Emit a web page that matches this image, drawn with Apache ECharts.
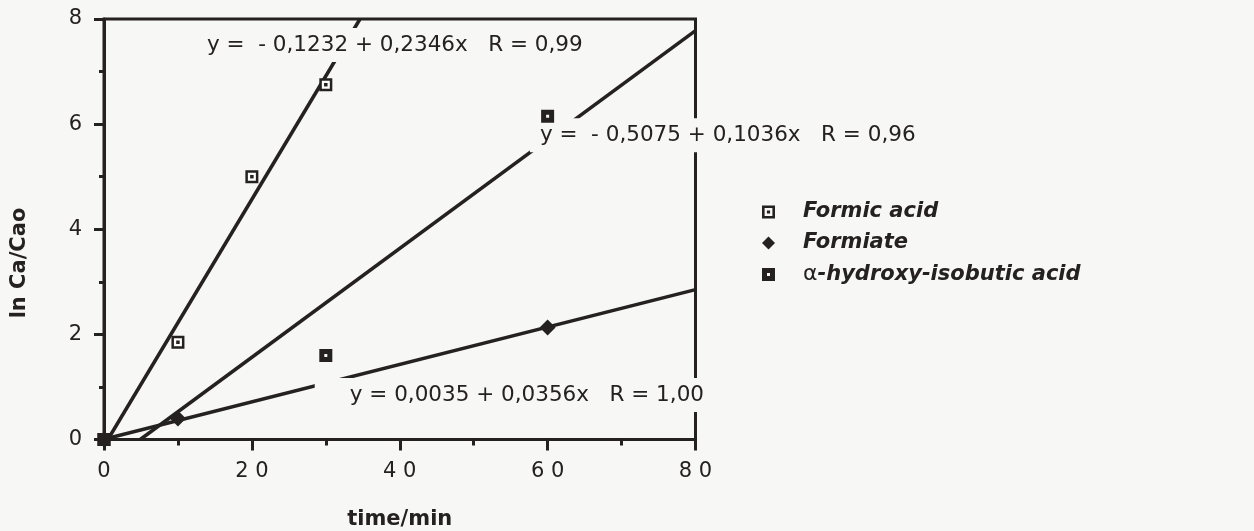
<!DOCTYPE html>
<html>
<head>
<meta charset="utf-8">
<title>ln Ca/Cao vs time</title>
<script src="https://cdn.jsdelivr.net/npm/echarts@6/dist/echarts.min.js"></script>
<style>
  html, body { margin: 0; padding: 0; background: #f7f7f5; }
  #chart { width: 1254px; height: 531px; }
</style>
</head>
<body>
<div id="chart"></div>
<script>
// ---- data ----
const xTicks = [0, 20, 40, 60, 80];
const xTickLabels = ['0', '2 0', '4 0', '6 0', '8 0'];
const yTicks = [0, 2, 4, 6, 8];
const yTickLabels = ['0', '2', '4', '6', '8'];

const timeFormic = [0, 10, 20, 30];
const lnFormic = [0, 1.85, 5.0, 6.75];

const timeFormiate = [0, 10, 60];
const lnFormiate = [0, 0.40, 2.13];

const timeHiba = [0, 30, 60];
const lnHiba = [0, 1.60, 6.15];

// linear fits: [intercept, slope], correlation R
const fitFormic = [-0.1232, 0.2346];
const fitFormiate = [0.0035, 0.0356];
const fitHiba = [-0.5075, 0.1036];
const rFormic = 0.99;
const rFormiate = 1.00;
const rHiba = 0.96;

const legendNames = ['Formic acid', 'Formiate', 'α-hydroxy-isobutic acid'];

// ---- helpers ----
const ink = '#252120';
const paper = '#f7f7f5';
const X_MIN = 0, X_MAX = 80, Y_MIN = 0, Y_MAX = 8;

const zip = (xs, ys) => xs.map((x, i) => [x, ys[i]]);
const comma = (v, d) => v.toFixed(d).replace('.', ',');

// fitted line clipped to the plotting box
function fitSegment(fit) {
  const [a, b] = fit;
  const x0 = Math.max(X_MIN, (Y_MIN - a) / b);
  const x1 = Math.min(X_MAX, (Y_MAX - a) / b);
  return [[x0, a + b * x0], [x1, a + b * x1]];
}
function fitText(fit, r) {
  const [a, b] = fit;
  const head = a < 0 ? 'y =  - ' + comma(-a, 4) : 'y = ' + comma(a, 4);
  return head + ' + ' + comma(b, 4) + 'x   R = ' + comma(r, 2);
}

// equation label: a paper-coloured box that masks the line and frame beneath it
function fitSeries(name, fit, r, anchor, padLeft) {
  return {
    name: name,
    type: 'line',
    data: fitSegment(fit),
    symbol: 'none',
    showSymbol: false,
    silent: true,
    z: 3,
    lineStyle: { color: ink, width: 3.5, opacity: 1 },
    markPoint: {
      silent: true,
      symbol: 'rect',
      symbolSize: 0,
      itemStyle: { color: 'transparent' },
      label: {
        show: true,
        position: 'right',
        distance: 0,
        formatter: fitText(fit, r),
        color: ink,
        fontFamily: 'DejaVu Sans',
        fontSize: 21.5,
        lineHeight: 22,
        backgroundColor: paper,
        padding: [6, 8, 6, padLeft]
      },
      data: [{ coord: anchor }]
    }
  };
}

// marker shapes
const iconFormic = 'path://M0,0H13V13H0Z M2.6,2.6V10.4H10.4V2.6Z M4.9,4.9H8.1V8.1H4.9Z';
const iconHiba = 'path://M0,0H13V13H0Z M5,5V8H8V5Z';

const tickLine = { color: ink, width: 3 };

const chart = echarts.init(document.getElementById('chart'), null, { renderer: 'canvas' });

chart.setOption({
  backgroundColor: paper,
  animation: false,
  textStyle: { fontFamily: 'DejaVu Sans', color: ink },
  grid: {
    left: 104, right: 558.5, top: 19, bottom: 91.5,
    show: true, borderColor: ink, borderWidth: 3, backgroundColor: 'transparent',
    containLabel: false, outerBoundsMode: 'none'
  },
  xAxis: {
    type: 'value', min: X_MIN, max: X_MAX, interval: 20,
    name: 'time/min', nameLocation: 'middle', nameGap: 70,
    nameTextStyle: { color: ink, fontFamily: 'DejaVu Sans', fontSize: 21, fontWeight: 'bold' },
    axisLine: { show: true, onZero: false, lineStyle: tickLine },
    axisTick: { show: true, inside: false, length: 11, lineStyle: tickLine },
    minorTick: { show: true, splitNumber: 2, length: 6, lineStyle: tickLine },
    splitLine: { show: false },
    minorSplitLine: { show: false },
    axisLabel: {
      margin: 22, color: ink, fontFamily: 'DejaVu Sans', fontSize: 21,
      formatter: v => { const i = xTicks.indexOf(v); return i < 0 ? '' : xTickLabels[i]; }
    }
  },
  yAxis: {
    type: 'value', min: Y_MIN, max: Y_MAX, interval: 2,
    axisLine: { show: true, onZero: false, lineStyle: tickLine },
    axisTick: { show: true, inside: false, length: 10, lineStyle: tickLine },
    minorTick: { show: true, splitNumber: 2, length: 5, lineStyle: tickLine },
    splitLine: { show: false },
    minorSplitLine: { show: false },
    axisLabel: {
      margin: 22, color: ink, fontFamily: 'DejaVu Sans', fontSize: 21,
      formatter: v => { const i = yTicks.indexOf(v); return i < 0 ? '' : yTickLabels[i]; }
    }
  },
  legend: {
    orient: 'vertical',
    left: 762, top: 201.5,
    padding: 0,
    itemWidth: 13, itemHeight: 13, itemGap: 10,
    selectedMode: false,
    textStyle: {
      color: ink, fontFamily: 'DejaVu Sans', fontSize: 21, fontWeight: 'bold', fontStyle: 'italic',
      lineHeight: 21, padding: [0, 0, 0, 23],
      rich: {
        g: { fontFamily: 'DejaVu Sans', fontSize: 22, fontWeight: 'normal', fontStyle: 'normal', color: ink }
      }
    },
    formatter: name => name.charAt(0) === 'α' ? '{g|α}' + name.slice(1) : name,
    data: [
      { name: legendNames[0], icon: iconFormic, itemStyle: { color: ink, borderWidth: 0, opacity: 1 } },
      { name: legendNames[1], icon: 'diamond', itemStyle: { color: ink, borderWidth: 0, opacity: 1 } },
      { name: legendNames[2], icon: iconHiba, itemStyle: { color: ink, borderWidth: 0, opacity: 1 } }
    ]
  },
  graphic: [{
    type: 'text',
    x: 20, y: 263,
    rotation: Math.PI / 2,
    style: {
      text: 'ln Ca/Cao', align: 'center', verticalAlign: 'middle',
      fill: ink, font: 'bold 21px "DejaVu Sans"'
    }
  }],
  series: [
    fitSeries('Formic acid fit', fitFormic, rFormic, [12.85, 7.505], 8),
    fitSeries('α-hydroxy-isobutic acid fit', fitHiba, rHiba, [57.6, 5.79], 10),
    fitSeries('Formiate fit', fitFormiate, rFormiate, [28.5, 0.847], 35),
    {
      name: legendNames[0], type: 'scatter', z: 10, silent: true,
      data: zip(timeFormic, lnFormic),
      symbol: 'rect', symbolSize: 10.5,
      itemStyle: { color: '#ffffff', borderColor: ink, borderWidth: 2.5, opacity: 1 }
    },
    {
      id: 'formic-centre', type: 'scatter', z: 11, silent: true,
      data: zip(timeFormic, lnFormic),
      symbol: 'rect', symbolSize: 3.5,
      itemStyle: { color: ink, opacity: 1 }
    },
    {
      name: legendNames[1], type: 'scatter', z: 10, silent: true,
      data: zip(timeFormiate, lnFormiate),
      symbol: 'diamond', symbolSize: 16,
      itemStyle: { color: ink, opacity: 1 }
    },
    {
      name: legendNames[2], type: 'scatter', z: 10, silent: true,
      data: zip(timeHiba, lnHiba),
      symbol: iconHiba, symbolSize: 13,
      itemStyle: { color: ink, opacity: 1 }
    }
  ]
});
</script>
</body>
</html>
